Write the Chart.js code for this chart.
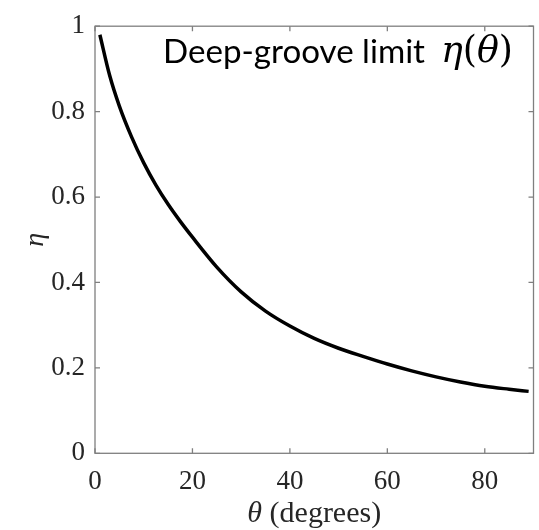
<!DOCTYPE html>
<html>
<head>
<meta charset="utf-8">
<script src="https://cdn.jsdelivr.net/npm/chart.js@4.4.1/dist/chart.umd.min.js"></script>
<style>
  body { margin: 0; background: #fff; }
</style>
</head>
<body>
<canvas id="grafico" width="539" height="530"></canvas>
<script>
// angulo theta (graus) e eta
const thetaVals = [1, 3, 5, 7.5, 10, 12.5, 15, 17.5, 20, 25, 30, 35, 40, 45, 50, 55, 60, 65, 70, 75, 80, 85, 89];
const etaVals = [0.98, 0.885, 0.813, 0.741, 0.680, 0.628, 0.583, 0.543, 0.506, 0.436, 0.378, 0.333, 0.298, 0.269, 0.246, 0.227, 0.209, 0.193, 0.179, 0.167, 0.157, 0.150, 0.145];
const xTicks = [0, 20, 40, 60, 80];
const yTicks = [0, 0.2, 0.4, 0.6, 0.8, 1];
const anotacao = 'Deep-groove limit';
// pedacos de η(θ): [texto, italico?]
const anotacaoMat = [['η', true], ['(', false], ['θ', true], [')', false]];

const corEixo = '#7f7f7f';
const corTexto = '#262626';
const serif = '"Liberation Serif", "Times New Roman", serif';
const mathSerif = '"DejaVu Serif", serif';

// desenha a caixa, os ticks para dentro, o titulo do eixo x e a anotacao
const caixaPlugin = {
    id: 'caixa',
    afterDraw(chart) {
        const ctx = chart.ctx;
        const a = chart.chartArea;
        const sx = chart.scales.x;
        const sy = chart.scales.y;
        const tl = 5;
        ctx.save();
        ctx.strokeStyle = corEixo;
        ctx.lineWidth = 1.3;
        ctx.strokeRect(a.left, a.top, a.right - a.left, a.bottom - a.top);
        ctx.beginPath();
        xTicks.forEach(v => {
            const px = sx.getPixelForValue(v);
            ctx.moveTo(px, a.bottom); ctx.lineTo(px, a.bottom - tl);
            ctx.moveTo(px, a.top); ctx.lineTo(px, a.top + tl);
        });
        yTicks.forEach(v => {
            const py = sy.getPixelForValue(v);
            ctx.moveTo(a.left, py); ctx.lineTo(a.left + tl, py);
            ctx.moveTo(a.right, py); ctx.lineTo(a.right - tl, py);
        });
        ctx.stroke();

        // titulo do eixo x: theta em italico
        ctx.fillStyle = corTexto;
        ctx.textBaseline = 'middle';
        ctx.textAlign = 'left';
        const fIt = 'italic 30px ' + serif;
        const fRe = '30px ' + serif;
        ctx.font = fIt;
        const w1 = ctx.measureText('θ').width;
        ctx.font = fRe;
        const w2 = ctx.measureText(' (degrees)').width;
        const cx = (a.left + a.right) / 2;
        const x0 = cx - (w1 + w2) / 2;
        ctx.font = fIt;
        ctx.fillText('θ', x0, 514);
        ctx.font = fRe;
        ctx.fillText(' (degrees)', x0 + w1, 514);

        // anotacao no canto superior direito
        ctx.fillStyle = '#000';
        ctx.textBaseline = 'alphabetic';
        const sans = 'Lato, "Noto Sans", sans-serif';
        ctx.font = '30px ' + sans;
        const fs = 30 * 262 / ctx.measureText(anotacao).width;
        ctx.font = fs + 'px ' + sans;
        ctx.fillText(anotacao, 163, 63);

        const fonte = (it, s) => (it ? 'italic ' : '') + s + 'px ' + mathSerif;
        let wm = 0;
        anotacaoMat.forEach(([t, it]) => { ctx.font = fonte(it, 30); wm += ctx.measureText(t).width; });
        const fm = 30 * 72 / wm;
        let xm = 441;
        anotacaoMat.forEach(([t, it]) => {
            ctx.font = fonte(it, fm);
            ctx.fillText(t, xm, 62);
            xm += ctx.measureText(t).width;
        });
        ctx.restore();
    }
};

const area = document.getElementById('grafico').getContext('2d');

new Chart(area, {
    type: 'line',
    data: {
        datasets: [{
            data: thetaVals.map((t, i) => ({ x: t, y: etaVals[i] })),
            borderColor: '#000',
            borderWidth: 3.5,
            pointRadius: 0,
            fill: false,
            cubicInterpolationMode: 'monotone'
        }]
    },
    options: {
        responsive: false,
        animation: false,
        layout: {
            padding: { left: 0, right: 5.5, top: 15.7, bottom: 0 }
        },
        scales: {
            x: {
                type: 'linear',
                min: 0,
                max: 90,
                grid: { display: false, drawTicks: false },
                border: { display: false },
                afterBuildTicks(scale) {
                    scale.ticks = xTicks.map(v => ({ value: v }));
                },
                ticks: {
                    padding: 12,
                    color: corTexto,
                    font: { family: serif, size: 27 }
                },
                afterFit(scale) { scale.height = 76.7; }
            },
            y: {
                min: 0,
                max: 1,
                grid: { display: false, drawTicks: false },
                border: { display: false },
                afterBuildTicks(scale) {
                    scale.ticks = yTicks.map(v => ({ value: v }));
                },
                ticks: {
                    padding: 10,
                    color: corTexto,
                    font: { family: serif, size: 27 },
                    callback: v => String(Math.round(v * 10) / 10)
                },
                title: {
                    display: true,
                    text: 'η',
                    color: corTexto,
                    font: { family: serif, size: 28, style: 'italic' },
                    padding: { top: 19, bottom: 0 }
                },
                afterFit(scale) { scale.width = 95; }
            }
        },
        plugins: {
            legend: { display: false },
            tooltip: { enabled: false }
        }
    },
    plugins: [caixaPlugin]
});
</script>
</body>
</html>
